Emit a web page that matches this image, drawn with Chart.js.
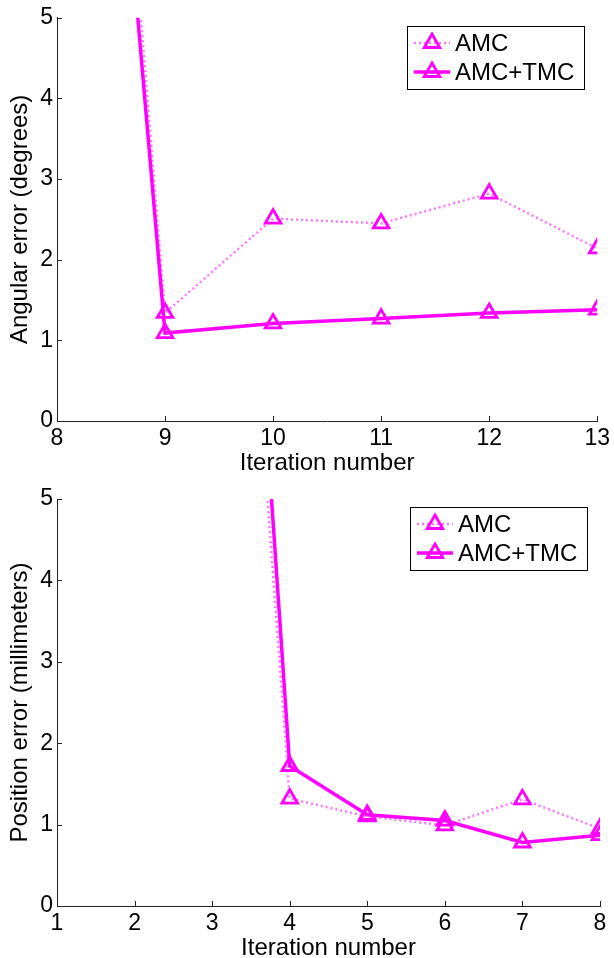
<!DOCTYPE html>
<html>
<head>
<meta charset="utf-8">
<script src="https://cdn.jsdelivr.net/npm/chart.js@4/dist/chart.umd.min.js"></script>
<style>
html, body { margin: 0; padding: 0; background: #fff; overflow: hidden; }
#angChart { position: absolute; left: 0; top: 0; }
#posChart { position: absolute; left: 0; top: 480px; }
</style>
</head>
<body>
<canvas id="angChart" width="614" height="480"></canvas>
<canvas id="posChart" width="614" height="490"></canvas>
<script>
// data
const seriesNames = ['AMC', 'AMC+TMC'];
const yTicks = [0, 1, 2, 3, 4, 5];

const angIter = [8, 9, 10, 11, 12, 13];
const angAMC = [17.7, 1.34, 2.51, 2.45, 2.82, 2.14];
const angAMCTMC = [16.6, 1.09, 1.21, 1.27, 1.34, 1.38];

const posIter = [1, 2, 3, 4, 5, 6, 7, 8];
const posAMC = [null, null, 14.1, 1.32, 1.10, 0.99, 1.31, 0.95];
const posAMCTMC = [null, null, 15.7, 1.72, 1.12, 1.05, 0.78, 0.87];

const MAG = '#ff00ff';
const FONT = "'Liberation Sans', Arial, Helvetica, sans-serif";

function toPts(xs, ys) {
    return xs.map((x, i) => ({x: x, y: ys[i]}));
}

function triangle(ctx, cx, cy, r) {
    const s = Math.sin(Math.PI / 3) * r;
    ctx.beginPath();
    ctx.moveTo(cx, cy - r);
    ctx.lineTo(cx + s, cy + r / 2);
    ctx.lineTo(cx - s, cy + r / 2);
    ctx.closePath();
}

// MATLAB style ticks pointing into the plot
const innerTicks = {
    id: 'innerTicks',
    afterDraw(chart) {
        const {ctx, chartArea: a, scales: {x, y}} = chart;
        ctx.save();
        ctx.strokeStyle = '#222';
        ctx.lineWidth = 1;
        ctx.beginPath();
        x.ticks.forEach(t => {
            const px = Math.round(x.getPixelForValue(t.value)) + 0.5;
            ctx.moveTo(px, a.bottom);
            ctx.lineTo(px, a.bottom - 5);
        });
        y.ticks.forEach(t => {
            const py = Math.round(y.getPixelForValue(t.value)) + 0.5;
            ctx.moveTo(a.left, py);
            ctx.lineTo(a.left + 5, py);
        });
        ctx.stroke();
        ctx.restore();
    }
};

// boxed legend inside the top right corner
const boxLegend = {
    id: 'boxLegend',
    afterDraw(chart) {
        const ctx = chart.ctx, a = chart.chartArea;
        const w = 177, h = 63;
        const x0 = Math.round(a.right - 13 - w), y0 = Math.round(a.top + 8);
        ctx.save();
        ctx.fillStyle = '#fff';
        ctx.fillRect(x0, y0, w, h);
        ctx.strokeStyle = '#000';
        ctx.lineWidth = 1;
        ctx.strokeRect(x0 + 0.5, y0 + 0.5, w, h);
        chart.data.datasets.forEach(ds => {
            const row = seriesNames.indexOf(ds.label);
            const cy = y0 + 17 + row * 29;
            ctx.strokeStyle = ds.borderColor;
            ctx.lineWidth = ds.borderWidth;
            ctx.setLineDash(ds.borderDash || []);
            ctx.beginPath();
            ctx.moveTo(x0 + 7, cy);
            ctx.lineTo(x0 + 43, cy);
            ctx.stroke();
            ctx.setLineDash([]);
            ctx.strokeStyle = ds.pointBorderColor;
            ctx.lineWidth = ds.pointBorderWidth;
            triangle(ctx, x0 + 25, cy, ds.pointRadius);
            ctx.stroke();
            ctx.fillStyle = '#000';
            ctx.font = '24px ' + FONT;
            ctx.textBaseline = 'middle';
            ctx.textAlign = 'left';
            ctx.fillText(ds.label, x0 + 48, cy + 1);
        });
        ctx.restore();
    }
};

function makeChart(id, iters, amc, amctmc, yTitle, padTop, xAxisH, titlePad) {
    return new Chart(document.getElementById(id), {
        type: 'line',
        data: {
            datasets: [
                {
                    label: seriesNames[0],
                    data: toPts(iters, amc),
                    borderColor: 'rgba(255,0,255,0.55)',
                    borderWidth: 2.5,
                    borderDash: [2, 3],
                    pointStyle: 'triangle',
                    pointRadius: 9,
                    pointBorderWidth: 2.8,
                    pointBorderColor: MAG,
                    pointBackgroundColor: 'rgba(0,0,0,0)',
                    tension: 0,
                    order: 1
                },
                {
                    label: seriesNames[1],
                    data: toPts(iters, amctmc),
                    borderColor: MAG,
                    borderWidth: 3.5,
                    pointStyle: 'triangle',
                    pointRadius: 9,
                    pointBorderWidth: 2.8,
                    pointBorderColor: MAG,
                    pointBackgroundColor: 'rgba(0,0,0,0)',
                    tension: 0,
                    order: 0
                }
            ]
        },
        options: {
            responsive: false,
            animation: false,
            devicePixelRatio: 1,
            layout: { padding: { top: padTop, right: 14, left: 0, bottom: 0 } },
            plugins: {
                legend: { display: false },
                tooltip: { enabled: false }
            },
            scales: {
                x: {
                    type: 'linear',
                    min: iters[0],
                    max: iters[iters.length - 1],
                    ticks: { stepSize: 1, padding: 4, color: '#000', font: { family: FONT, size: 23 } },
                    grid: { display: true, drawOnChartArea: false, drawTicks: false },
                    border: { display: true, color: '#222', width: 1 },
                    title: {
                        display: true, text: 'Iteration number', color: '#000',
                        font: { family: FONT, size: 24, lineHeight: 1.2 },
                        padding: { top: 0, bottom: titlePad }
                    },
                    afterFit: s => { s.height = xAxisH; }
                },
                y: {
                    min: 0,
                    max: 5,
                    afterBuildTicks: s => { s.ticks = yTicks.map(v => ({value: v})); },
                    ticks: { padding: 4, color: '#000', font: { family: FONT, size: 23 } },
                    grid: { display: true, drawOnChartArea: false, drawTicks: false },
                    border: { display: true, color: '#222', width: 1 },
                    title: {
                        display: true, text: yTitle, color: '#000',
                        font: { family: FONT, size: 24, lineHeight: 1.2 },
                        padding: { top: 6, bottom: 0 }
                    },
                    afterFit: s => { s.width = 57; }
                }
            }
        },
        plugins: [innerTicks, boxLegend]
    });
}

makeChart('angChart', angIter, angAMC, angAMCTMC, 'Angular error (degrees)', 17, 59, 2);
makeChart('posChart', posIter, posAMC, posAMCTMC, 'Position error (millimeters)', 19, 64, 7);
</script>
</body>
</html>
